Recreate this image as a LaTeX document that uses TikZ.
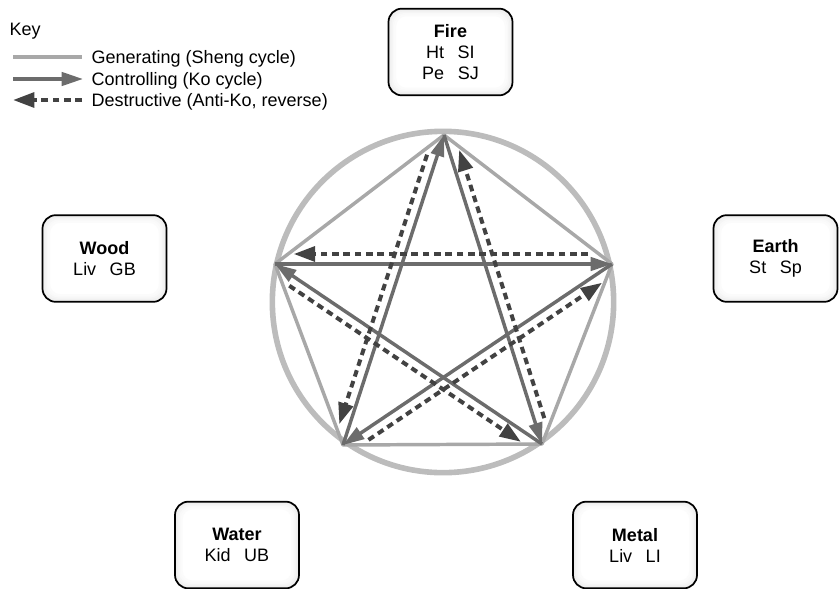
\documentclass[tikz,border=0pt]{standalone}
\usepackage{fontspec}
\setmainfont{Liberation Sans}
\definecolor{shenggray}{RGB}{168,168,168}
\definecolor{ringgray}{RGB}{188,188,188}
\definecolor{kogray}{RGB}{108,108,108}
\definecolor{antigray}{RGB}{66,66,66}
\usetikzlibrary{arrows.meta,positioning,calc}
\tikzset{
  gen/.style={shenggray, line width=2.6pt},
  ko/.style={kogray, line width=2.6pt, -{Triangle[length=16pt,width=10pt]}},
  antiko/.style={antigray, line width=3pt, dash pattern=on 5pt off 3.5pt,
                 -{Triangle[length=16pt,width=11pt]}},
  phasebox/.style={draw, line width=1.3pt, rounded corners=10pt, fill=white,
                   minimum width=93pt, minimum height=65pt, align=center,
                   path picture={
                     \foreach \i/\c in {1/14,2/11,3/8,4/5,5/3}
                       \draw[gray!\c, line width=1.6pt, rounded corners=8pt]
                         ([shift={(\i pt,-\i pt)}]path picture bounding box.north west)
                         rectangle ([shift={(-\i pt,\i pt)}]path picture bounding box.south east);
                   }}
}

\begin{document}
\begin{tikzpicture}[x=0.75pt, y=-0.75pt, font=\fontsize{13.5}{15.75}\selectfont]
    \useasboundingbox (0,0) rectangle (840,589);
    % Key
    \node[anchor=west] (keytitle) at (5,31) {Key};
    \node[anchor=west] (keygen) at (87,59) {Generating (Sheng cycle)};
    \node[anchor=west] (keyko) at (87,81) {Controlling (Ko cycle)};
    \node[anchor=west] (keyanti) at (87,102) {Destructive (Anti-Ko, reverse)};
    \draw[gen, line width=3pt] ([shift={(-55.5pt,1.5pt)}]keygen.west) -- ([shift={(-3.75pt,1.5pt)}]keygen.west);
    \draw[ko] ([shift={(-55.5pt,1.5pt)}]keyko.west) -- ([shift={(-3pt,1.5pt)}]keyko.west);
    \draw[antiko] ([shift={(-3.75pt,1.5pt)}]keyanti.west) -- ([shift={(-55.5pt,1.5pt)}]keyanti.west);
    % Elements
    \coordinate (fire) at (444,135);
    \coordinate (earth) at (612,264);
    \coordinate (metal) at (542,444);
    \coordinate (water) at (343,445);
    \coordinate (wood) at (275,264);
    \node[phasebox] (firebox) at (450.5,52) {\textbf{Fire}\\Ht\hspace{.75em}SI\\Pe\hspace{.75em}SJ};
    \node[phasebox] (woodbox) at (104.5,258.5) {\textbf{Wood}\\Liv\hspace{.75em}GB};
    \node[phasebox] (earthbox) at (775.5,258.5) {\textbf{Earth}\\St\hspace{.75em}Sp};
    \node[phasebox] (waterbox) at (237,545) {\textbf{Water}\\Kid\hspace{.75em}UB};
    \node[phasebox] (metalbox) at (635,545) {\textbf{Metal}\\Liv\hspace{.75em}LI};
    % Ring and generating cycle
    \node[circle, draw=ringgray, line width=4.2pt, minimum size=256pt] (ring) at (443,302) {};
    \draw[gen, line join=round] (wood) -- (fire) -- (earth) -- (metal) -- (water) -- cycle;
    % Controlling cycle
    \foreach \a/\b in {wood/earth, earth/water, water/fire, fire/metal, metal/wood}
      \draw[ko] (\a) -- (\b);
    % Destructive cycle, offset beside each Ko line
    \foreach \a/\b in {earth/wood, water/earth, fire/water, metal/fire, wood/metal}
      \draw[antiko, shorten <=18pt, shorten >=14pt]
        ($(\a)!7.5pt!-90:(\b)$) -- ($(\b)!7.5pt!90:(\a)$);
  \end{tikzpicture}
\end{document}
